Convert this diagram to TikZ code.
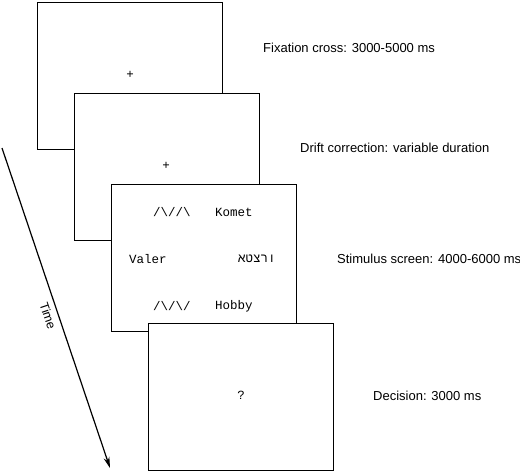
\documentclass[tikz,border=0pt]{standalone}
\usepackage{fontspec}
\setmainfont{Liberation Sans}
\newfontfamily\stimfont{Liberation Mono}
\newfontfamily\hebfont[Script=Hebrew]{Liberation Mono}
\TeXXeTstate=1
\usepackage{xcolor}
\usetikzlibrary{arrows.meta, positioning}

\begin{document}
\begin{tikzpicture}[
    x=1pt, y=-1pt,
    screenbox/.style={rectangle, draw=black, fill=white, line width=1.4pt, minimum width=185pt, minimum height=147pt, inner sep=0pt, anchor=north west},
    stim/.style={font=\stimfont\fontsize{12.5}{14}\selectfont, inner sep=0pt},
    lbl/.style={font=\fontsize{13}{15}\selectfont, anchor=west, inner sep=0pt},
    timearr/.style={-{Stealth[length=11pt, width=6pt]}, line width=1.2pt}
]
\useasboundingbox (0,0) rectangle (520,472);

% Screens, later ones on top
\node[screenbox] (fix) at (37,2) {};
\node[screenbox] (drift) at (74,93) {};
\node[screenbox] (stimulus) at (111,184) {};
\node[screenbox] (decision) at (148,323) {};

% Screen contents
\node[stim] (cross1) at (130,75) {+};
\node[stim] (cross2) at (166,166) {+};
\node[stim] (sym1) at (172,212) {/\textbackslash//\textbackslash};
\node[stim] (word1) at (234,212) {Komet};
\node[stim] (word2) at (148,259) {Valer};
\node[stim] (word3) at (257,259) {\hebfont\beginR ורצטא\endR};
\node[stim] (sym2) at (172,306) {/\textbackslash/\textbackslash/};
\node[stim] (word4) at (234,306) {Hobby};
\node[stim] (quest) at (241,395) {?};

% Durations
\node[lbl] (lfix) at (263,48) {Fixation cross: 3000-5000 ms};
\node[lbl] (ldrift) at (300,148) {Drift correction: variable duration};
\node[lbl] (lstim) at (337,259) {Stimulus screen: 4000-6000 ms};
\node[lbl] (ldec) at (373,396) {Decision: 3000 ms};

% Time axis
\coordinate (tstart) at (2,148);
\coordinate (tend) at (110,468);
\draw[timearr] (tstart) -- node[pos=0.515, sloped, below=4pt, inner sep=1pt, font=\fontsize{12.5}{14}\selectfont] (ltime) {Time} (tend);

\end{tikzpicture}
\end{document}
